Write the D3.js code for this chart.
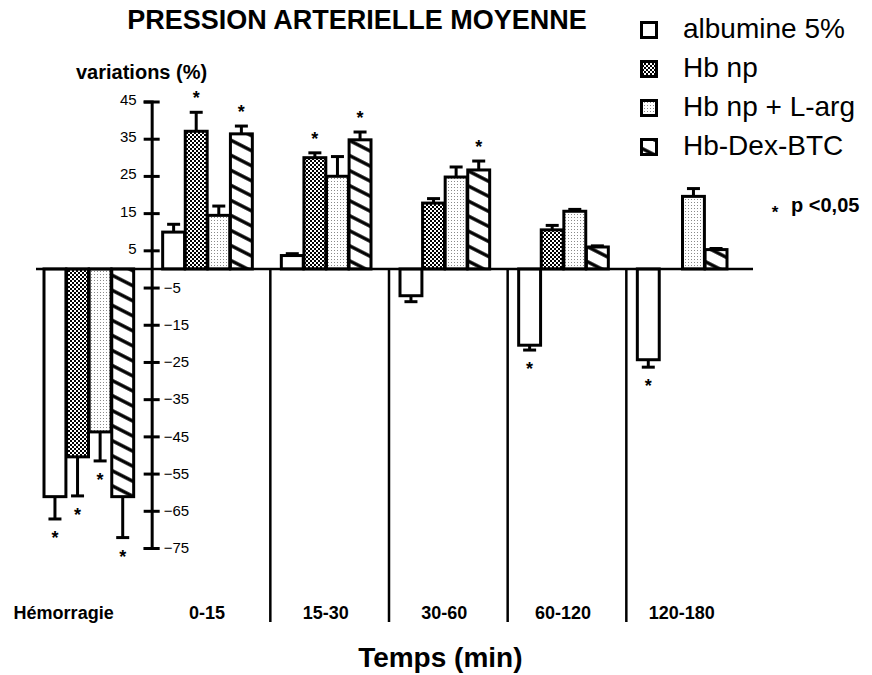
<!DOCTYPE html>
<html>
<head>
<meta charset="utf-8">
<script src="https://cdn.jsdelivr.net/npm/d3@7"></script>
<style>
  body { margin: 0; background: #fff; }
  svg { display: block; font-family: Arial, "Liberation Sans", sans-serif; }
</style>
</head>
<body>
<svg id="chart" width="872" height="675"></svg>
<script>
// data (variation in %, mean +/- error)
const categories = ["Hémorragie", "0-15", "15-30", "30-60", "60-120", "120-180"]
const series = ["albumine 5%", "Hb np", "Hb np + L-arg", "Hb-Dex-BTC"]

const albumine    = [-61.2, 9.9, 3.6, -7.2, -20.5, -24.4]
const albumineErr = [6, 2.1, 0.5, 1.6, 1.3, 2]
const hbnp        = [-50.5, 37, 29.9, 17.7, 10.5, null]
const hbnpErr     = [10.5, 5.1, 1.3, 1.2, 1.2, null]
const hbnpLarg    = [-43.8, 14.4, 24.9, 24.7, 15.5, 19.5]
const hbnpLargErr = [7.8, 2.5, 5.3, 2.7, 0.5, 2.1]
const hbDexBtc    = [-61.2, 36.3, 34.7, 26.6, 5.9, 5.2]
const hbDexBtcErr = [11, 2.1, 2.1, 2.4, 0.3, 0.3]

// significance (p < 0,05) per series and period
const sigAlbumine = [1, 0, 0, 0, 1, 1]
const sigHbnp     = [1, 1, 1, 0, 0, 0]
const sigHbnpLarg = [1, 0, 0, 0, 0, 0]
const sigHbDexBtc = [1, 1, 1, 1, 0, 0]

const yTicks = [45, 35, 25, 15, 5, -5, -15, -25, -35, -45, -55, -65, -75]

const values = [albumine, hbnp, hbnpLarg, hbDexBtc]
const errors = [albumineErr, hbnpErr, hbnpLargErr, hbDexBtcErr]
const signif = [sigAlbumine, sigHbnp, sigHbnpLarg, sigHbDexBtc]
const fills = ["#fff", "url(#checker)", "url(#dots)", "url(#hatch)"]

const svg = d3.select("#chart")
const defs = svg.append("defs")

// dark checker pattern (Hb np)
const pc = defs.append("pattern").attr("id", "checker")
    .attr("patternUnits", "userSpaceOnUse").attr("width", 4).attr("height", 4)
pc.append("rect").attr("width", 4).attr("height", 4).attr("fill", "#000")
pc.append("rect").attr("width", 2).attr("height", 2).attr("fill", "#fff")
pc.append("rect").attr("x", 2).attr("y", 2).attr("width", 2).attr("height", 2).attr("fill", "#fff")

// light dots (Hb np + L-arg)
const pd = defs.append("pattern").attr("id", "dots")
    .attr("patternUnits", "userSpaceOnUse").attr("width", 3).attr("height", 3)
pd.append("rect").attr("width", 3).attr("height", 3).attr("fill", "#fff")
pd.append("rect").attr("x", 1).attr("y", 1).attr("width", 1).attr("height", 1).attr("fill", "#8a8a8a")

// diagonal hatch (Hb-Dex-BTC)
const ph = defs.append("pattern").attr("id", "hatch")
    .attr("patternUnits", "userSpaceOnUse").attr("width", 10).attr("height", 13.4)
    .attr("patternTransform", "rotate(27)")
ph.append("rect").attr("width", 10).attr("height", 13.4).attr("fill", "#fff")
ph.append("line").attr("x1", 0).attr("x2", 10).attr("y1", 6.7).attr("y2", 6.7)
    .attr("stroke", "#000").attr("stroke-width", 3.4)

// scales
const x = d3.scaleBand().domain(categories).range([33, 745])
const xs = d3.scaleBand().domain(series).range([11, x.bandwidth() - 18]).paddingInner(0.03)
const y = d3.scaleLinear().domain([-75, 45]).range([548, 101.5])
const axisX = x(categories[1])

// bars
const bars = svg.append("g")
categories.forEach((c, i) => {
    series.forEach((s, j) => {
        const v = values[j][i]
        if (v == null) return
        const bx = x(c) + xs(s)
        const w = xs.bandwidth()
        bars.append("rect")
            .attr("x", bx).attr("width", w)
            .attr("y", y(Math.max(0, v)))
            .attr("height", Math.abs(y(v) - y(0)))
            .attr("fill", fills[j])
            .attr("stroke", "#000").attr("stroke-width", 3)

        // error bar
        const e = errors[j][i]
        const sgn = v < 0 ? -1 : 1
        const cx = bx + w / 2
        const ye = y(v + sgn * e)
        bars.append("line")
            .attr("x1", cx).attr("x2", cx).attr("y1", y(v)).attr("y2", ye)
            .attr("stroke", "#000").attr("stroke-width", 3)
        bars.append("line")
            .attr("x1", cx - 6.5).attr("x2", cx + 6.5).attr("y1", ye).attr("y2", ye)
            .attr("stroke", "#000").attr("stroke-width", 3)

        // star
        if (signif[j][i]) {
            bars.append("text")
                .attr("x", cx)
                .attr("y", v < 0 ? ye + 25 : ye - 8)
                .attr("text-anchor", "middle")
                .style("font-size", "18px").style("font-weight", "bold")
                .text("*")
        }
    })
})

// zero line
svg.append("line")
    .attr("x1", x.range()[0] + 3).attr("x2", x.range()[1] + 8)
    .attr("y1", y(0)).attr("y2", y(0))
    .attr("stroke", "#000").attr("stroke-width", 2.5)

// period separators
categories.slice(2).forEach(c => {
    svg.append("line")
        .attr("x1", x(c)).attr("x2", x(c))
        .attr("y1", y(0)).attr("y2", 622)
        .attr("stroke", "#000").attr("stroke-width", 2.5)
})

// y axis
const yAxis = d3.axisLeft(y).tickValues(yTicks).tickSizeOuter(0).tickSize(8).tickFormat(d3.format("d"))
const ga = svg.append("g").attr("transform", `translate(${axisX},0)`).call(yAxis)
ga.select(".domain").attr("stroke-width", 3)
ga.selectAll(".tick line").attr("x1", -8).attr("x2", 8).attr("stroke-width", 3)
ga.selectAll(".tick text")
    .attr("x", d => d > 0 ? -15 : 12)
    .attr("dy", d => d > 0 ? "0.2em" : "0.32em")
    .attr("text-anchor", d => d > 0 ? "end" : "start")
    .style("font-family", "Arial, 'Liberation Sans', sans-serif")
    .style("font-size", "15px")
    .attr("fill", "#000")

// period labels
svg.append("g").selectAll("text")
    .data(categories).join("text")
    .attr("x", (d, i) => i === 0 ? axisX - 38 : x(d) + x.bandwidth() / 2 - 4)
    .attr("y", 619)
    .attr("text-anchor", (d, i) => i === 0 ? "end" : "middle")
    .style("font-size", "18px").style("font-weight", "bold")
    .text(d => d)

// titles
svg.append("text")
    .attr("x", 357).attr("y", 29)
    .attr("text-anchor", "middle")
    .style("font-size", "27px").style("font-weight", "bold")
    .text("PRESSION ARTERIELLE MOYENNE")

svg.append("text")
    .attr("x", 76).attr("y", 79)
    .style("font-size", "20px").style("font-weight", "bold")
    .text("variations (%)")

svg.append("text")
    .attr("x", (axisX + x.range()[1]) / 2 - 8).attr("y", 667)
    .attr("text-anchor", "middle")
    .style("font-size", "28px").style("font-weight", "bold")
    .text("Temps (min)")

// legend
const lg = svg.append("g").attr("transform", "translate(640, 38)")
series.forEach((s, j) => {
    const row = lg.append("g").attr("transform", `translate(0, ${j * 39})`)
    row.append("rect")
        .attr("x", 1.5).attr("y", -15.5).attr("width", 15).attr("height", 15)
        .attr("fill", fills[j]).attr("stroke", "#000").attr("stroke-width", 3)
    row.append("text")
        .attr("x", 43).attr("y", 0)
        .style("font-size", "28px")
        .text(s)
})

const pn = svg.append("g").attr("transform", "translate(775, 212)")
pn.append("text").attr("x", 0).attr("y", 6)
    .attr("text-anchor", "middle")
    .style("font-size", "17px").style("font-weight", "bold")
    .text("*")
pn.append("text").attr("x", 16).attr("y", 0)
    .style("font-size", "20px").style("font-weight", "bold")
    .text("p <0,05")
</script>
</body>
</html>
